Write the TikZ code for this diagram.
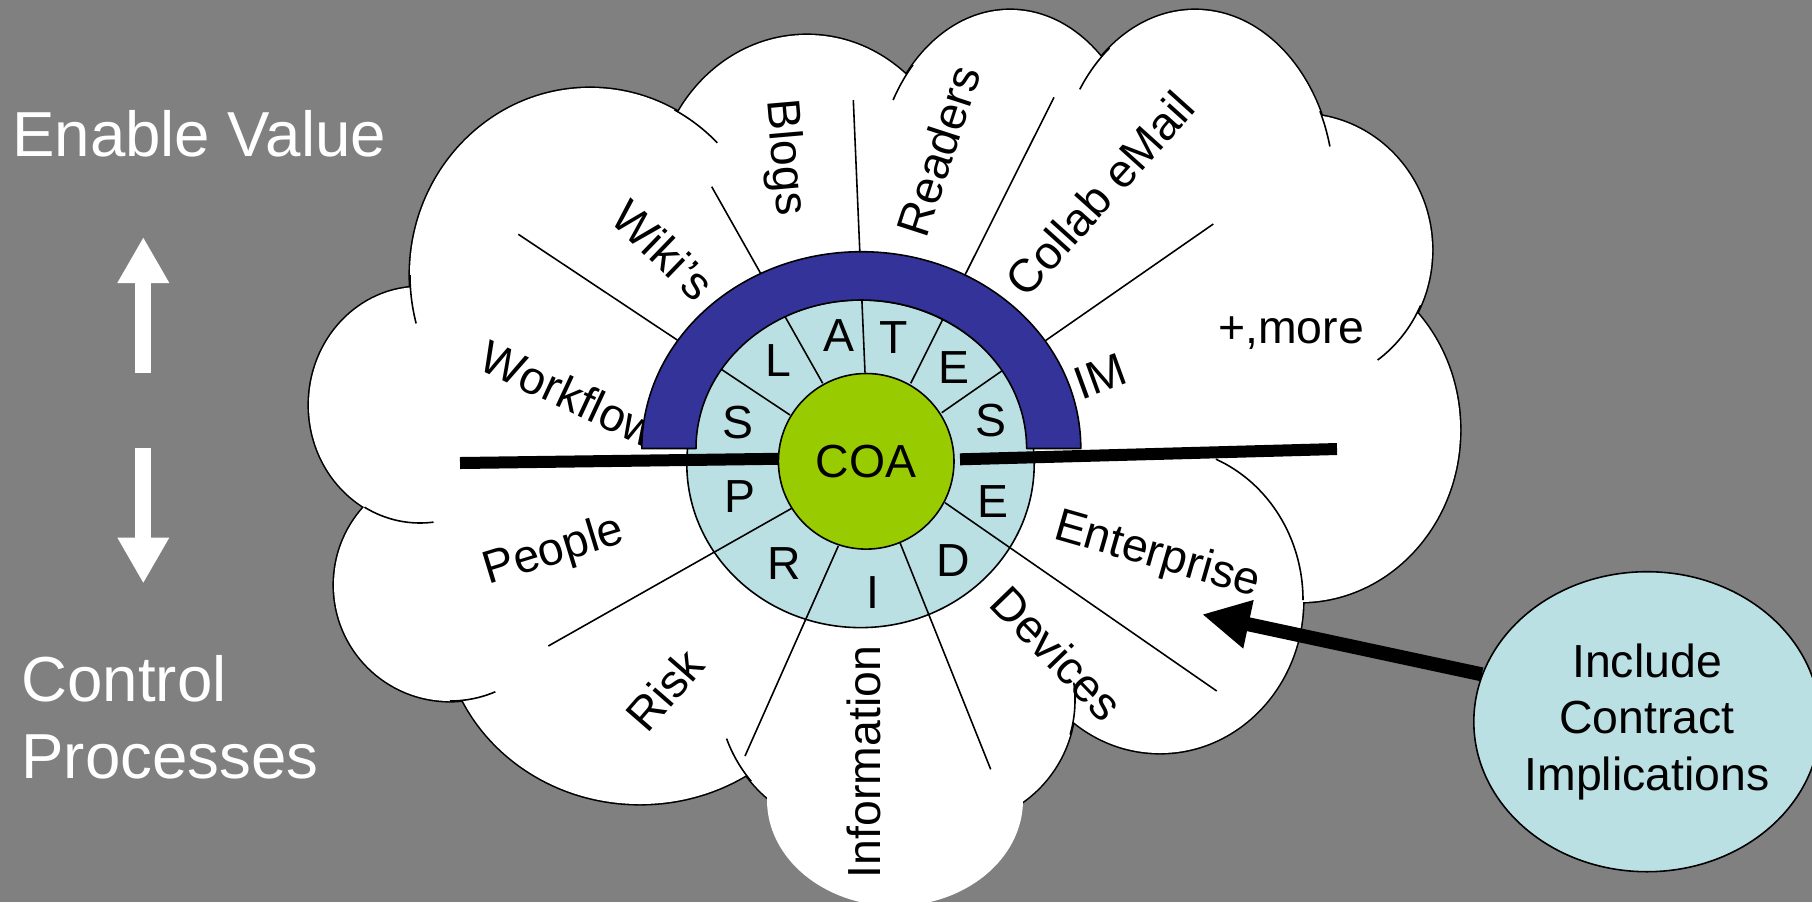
\documentclass[tikz,border=0pt]{standalone}
\usepackage{fontspec}
\setmainfont{Liberation Sans}
\usetikzlibrary{arrows.meta,shapes.geometric}
\definecolor{bggray}{HTML}{808080}
\definecolor{navyarc}{HTML}{333399}
\definecolor{ringblue}{RGB}{187,224,227}
\definecolor{coagreen}{HTML}{99CC00}
\newcommand\cloudlobes{%
 (590,-275) ellipse[x radius=180,y radius=187]
 (420,-405) ellipse[x radius=111,y radius=118]
 (450,-585) circle[radius=116]
 (640,-620) ellipse[x radius=197,y radius=184]
 (860,-690) circle[radius=142]
 (950,-700) circle[radius=125]
 (1160,-600) ellipse[x radius=143,y radius=153]
 (1300,-430) ellipse[x radius=160,y radius=172]
 (1300,-250) ellipse[x radius=132,y radius=136]
 (1195,-190) ellipse[x radius=139,y radius=180]
 (1010,-190) ellipse[x radius=135,y radius=180]
 (807,-200) ellipse[x radius=152,y radius=165]}
\newcommand\iarc[6]{\draw[divline] (#1,#2) ++(#5:#3 and #4) arc[start angle=#5,end angle=#6,x radius=#3,y radius=#4];}
\tikzset{
 lbl/.style={font=\fontsize{13.2}{15.8}\selectfont, inner sep=0pt, text=black},
 side/.style={font=\fontsize{18.1}{21.7}\selectfont, inner sep=0pt, text=white},
 divline/.style={line width=0.45pt, draw=black},
 lobeline/.style={line width=0.9pt, draw=black},
 bar/.style={line width=1.2mm, draw=black, line cap=butt},
}
\begin{document}
\begin{tikzpicture}[x=0.1mm,y=0.1mm,line join=round]
\useasboundingbox (0,0) rectangle (1812,-902);
\fill[bggray] (0,0) rectangle (1812,-902);
\clip (0,0) rectangle (1812,-902);

% cloud
\draw[lobeline] \cloudlobes;
\fill[white] \cloudlobes;
\fill[white] (870,-430) ellipse[x radius=400,y radius=300];
\fill[white] (895,-800) ellipse[x radius=128,y radius=106];

% inner arcs of the cloud
\iarc{590}{-275}{180}{187}{180}{195}
\iarc{590}{-275}{180}{187}{62}{45}
\iarc{1010}{-190}{135}{180}{136}{150}
\iarc{1195}{-190}{139}{180}{128}{146}
\iarc{1195}{-190}{139}{180}{26}{14}
\iarc{1300}{-250}{132}{136}{-24}{-54}
\iarc{1160}{-600}{143}{153}{67}{0}
\iarc{420}{-405}{111}{118}{-120}{-83}
\iarc{450}{-585}{116}{116}{-90}{-67}
\iarc{860}{-690}{142}{142}{-160}{-140}
\iarc{950}{-700}{125}{125}{8}{-16}

% cloud labels
\node[lbl, rotate=-44] (wiki) at (663,-250) {Wiki’s};
\node[lbl, rotate=-85] (blogs) at (784,-157.5) {Blogs};
\node[lbl, rotate=72] (readers) at (938.3,-150.8) {Readers};
\node[lbl, rotate=48] (collab) at (1100,-193.5) {Collab eMail};
\node[lbl, rotate=20] (im) at (1100,-376.5) {IM};
\node[lbl, anchor=base] (more) at (1291,-343.3) {+,more};
\node[lbl, rotate=-25] (workflow) at (570,-394) {Workflow};
\node[lbl, rotate=17] (people) at (554,-552) {People};
\node[lbl, rotate=49] (risk) at (665,-690) {Risk};
\node[lbl, rotate=90, anchor=base] (information) at (880,-762) {Information};
\node[lbl, rotate=-46] (devices) at (1057,-653) {Devices};
\node[lbl, rotate=-16] (enterprise) at (1157,-556) {Enterprise};

% ring
\filldraw[fill=ringblue, draw=black, line width=0.45pt] (860.5,-463.8) ellipse[x radius=173.7,y radius=163.8];

% divider lines
\coordinate (d1i) at (790,-415);   \coordinate (d1o) at (518.3,-234.3);
\coordinate (d2i) at (822.7,-383.3); \coordinate (d2o) at (711.7,-186.7);
\coordinate (d3i) at (865,-372.7); \coordinate (d3o) at (853.3,-100);
\coordinate (d4i) at (910.7,-383.3); \coordinate (d4o) at (1054,-97.3);
\coordinate (d5i) at (941.7,-412.7); \coordinate (d5o) at (1213.3,-224);
\coordinate (d6i) at (791.7,-508.3); \coordinate (d6o) at (548.3,-646);
\coordinate (d7i) at (838.3,-546); \coordinate (d7o) at (745,-756);
\coordinate (d8i) at (900,-542.7); \coordinate (d8o) at (990.7,-769.3);
\coordinate (d9i) at (945,-502.7); \coordinate (d9o) at (1216.7,-691);
\foreach \k in {1,...,9} {\draw[divline] (d\k i) -- (d\k o);}

% blue arc
\filldraw[fill=navyarc, draw=black, line width=0.45pt]
 (641.8,-448.5) arc[start angle=180,end angle=0,x radius=219.5,y radius=196.8]
 -- (1026.6,-448.5) arc[start angle=0,end angle=180,x radius=165.3,y radius=148.5] -- cycle;

% black bar
\coordinate (barL) at (460,-463); \coordinate (barLm) at (800,-458.5);
\coordinate (barRs) at (960,-459.3); \coordinate (barR) at (1337,-449);
\draw[bar] (barL) -- (barLm);
\draw[bar] (barRs) -- (barR);

% COA
\node[circle, draw=black, fill=coagreen, line width=0.45pt, minimum size=17.56mm, inner sep=0pt, lbl] (coa) at (866.2,-461.3) {COA};

% ring letters
\node[lbl, anchor=base] (s1) at (738.3,-438.3) {S};
\node[lbl, anchor=base] (l1) at (778.3,-376.6) {L};
\node[lbl, anchor=base] (a1) at (839.3,-351.6) {A};
\node[lbl, anchor=base] (t1) at (893.3,-353.3) {T};
\node[lbl, anchor=base] (e1) at (954,-383.3) {E};
\node[lbl, anchor=base] (s2) at (990.7,-436.6) {S};
\node[lbl, anchor=base] (p1) at (740,-512) {P};
\node[lbl, anchor=base] (r1) at (784,-579.6) {R};
\node[lbl, anchor=base] (i1) at (872.7,-608.6) {I};
\node[lbl, anchor=base] (dd) at (953.6,-576.2) {D};
\node[lbl, anchor=base] (e2) at (993.3,-517) {E};

% include
\node[ellipse, draw=black, fill=ringblue, line width=0.45pt, minimum width=31.74mm, minimum height=30mm, inner sep=0pt, align=center, font=\fontsize{13.2}{16.1}\selectfont] (inc) at (1647,-721.7) {Include\\Contract\\Implications};
\coordinate (arrowtip) at (1202,-614.3);
\draw[line width=1.4mm, -{Triangle[length=4.75mm,width=4.6mm]}] (inc.164) -- (arrowtip);

% left side
\node[side, anchor=base west] (enable) at (11.5,-156.7) {Enable Value};
\node[side, anchor=base west] (control) at (20.8,-701.4) {Control};
\node[side, anchor=base west] (processes) at (20.8,-778) {Processes};
\coordinate (upS) at (143.3,-373); \coordinate (upT) at (143.3,-237);
\coordinate (dnS) at (143.3,-448); \coordinate (dnT) at (143.3,-583.5);
\draw[white, line width=1.6mm, -{Triangle[length=4.6mm,width=4.85mm]}] (upS) -- (upT);
\draw[white, line width=1.6mm, -{Triangle[length=4.6mm,width=4.85mm]}] (dnS) -- (dnT);
\end{tikzpicture}
\end{document}
